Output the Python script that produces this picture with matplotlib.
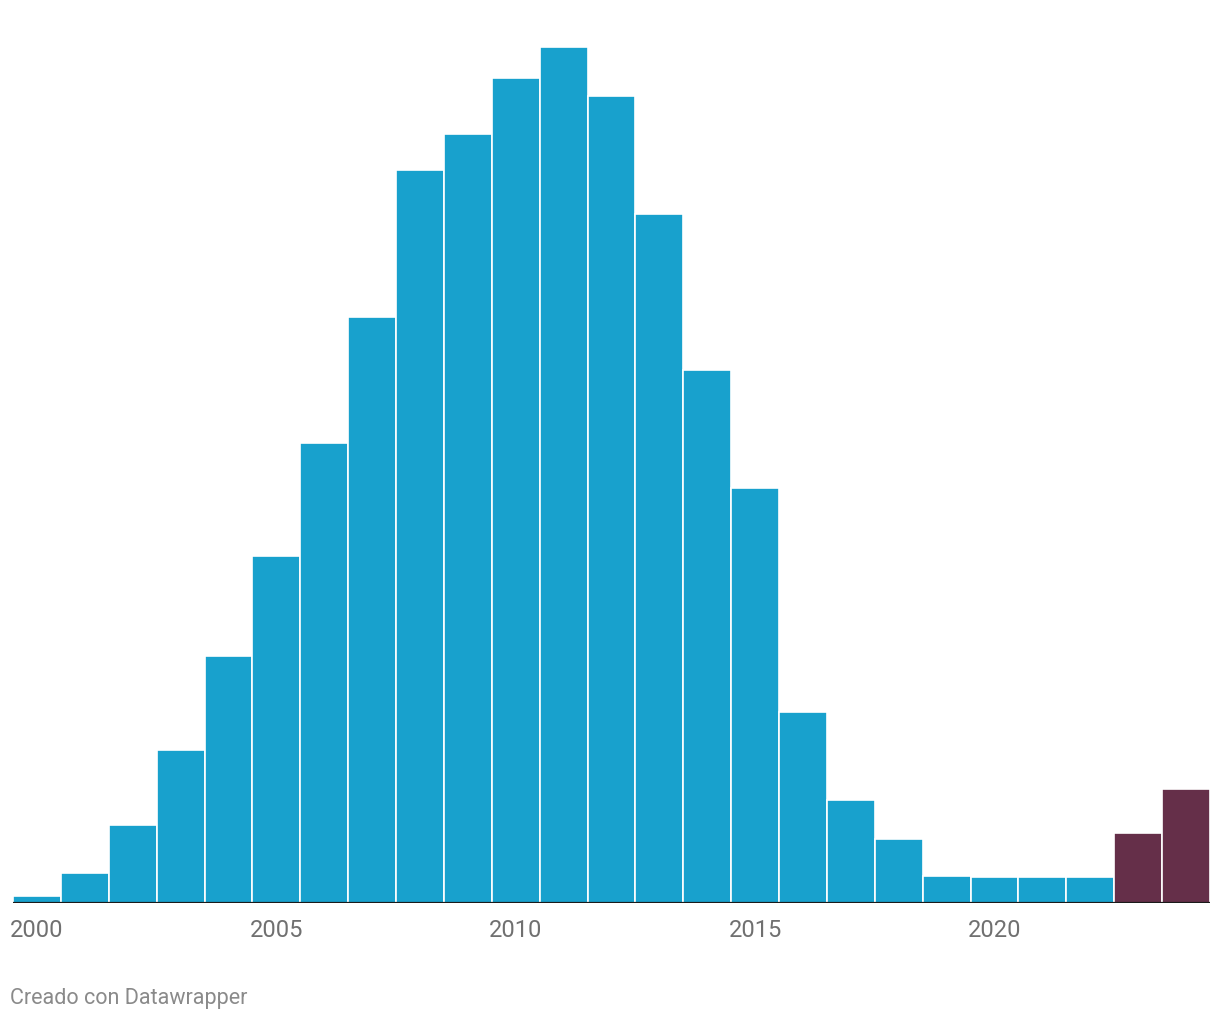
import numpy as np
import matplotlib.pyplot as plt

years = list(range(2000, 2025))
values = [7, 30, 78, 153, 247, 347, 459, 585, 732, 768, 824, 855, 806, 688,
          532, 415, 191, 103, 64, 27, 26, 26, 26, 70, 114]
highlight = [2023, 2024]
tick_years = [2000, 2005, 2010, 2015, 2020]

blue = '#18a1cd'
purple = '#652f49'

plt.rcParams['font.family'] = ['Roboto', 'DejaVu Sans']

fig = plt.figure(figsize=(12.2, 10.2), dpi=100)
ax = fig.add_axes([13 / 1220, 116 / 1020, 1197 / 1220, 856 / 1020])

colors = [purple if y in highlight else blue for y in years]
ax.bar(years, values, width=1.0, color=colors, edgecolor='white', linewidth=1.2)

ax.set_xlim(years[0] - 0.5, years[-1] + 0.5)
ax.set_ylim(0, max(values))
ax.axhline(0, color='#1a1a1a', linewidth=1.6, zorder=5)

for s in ax.spines.values():
    s.set_visible(False)
ax.set_yticks([])
ax.set_xticks(tick_years)
ax.set_xticklabels([str(y) for y in tick_years])
ax.tick_params(axis='x', length=0, pad=11, labelsize=17, labelcolor='#707070')

fig.text(10 / 1220, 1 - 999 / 1020, 'Creado con Datawrapper', fontsize=15.5,
         color='#8a8a8a', va='center', ha='left')

fig.savefig('out.png', dpi=100)
